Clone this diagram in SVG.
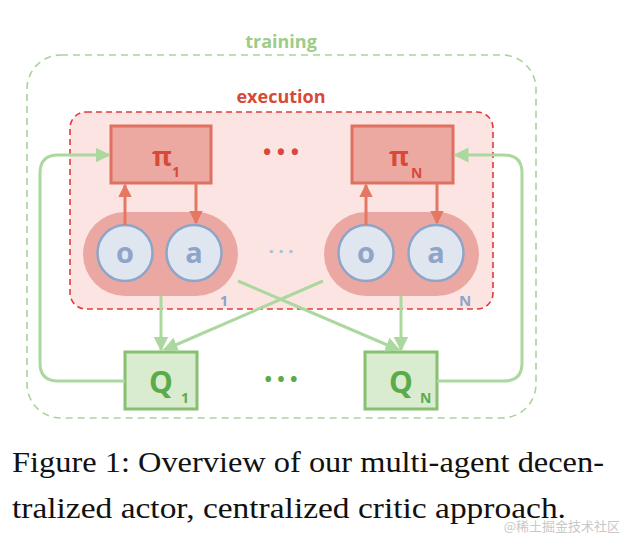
<svg xmlns="http://www.w3.org/2000/svg" width="626" height="540" viewBox="0 0 626 540">
<style>
.lbl{font-family:"Open Sans","Liberation Sans",sans-serif;font-weight:bold;}
.circ{fill:#dfe6f0;stroke:#8ea5c8;stroke-width:2.5;}
.ctext{font-family:"Open Sans","Liberation Sans",sans-serif;font-weight:bold;font-size:29px;fill:#8ea5c8;text-anchor:middle;}
.pi{fill:#eba9a1;stroke:#e0705f;stroke-width:3;}
.pitext{font-family:"Open Sans","Liberation Sans",sans-serif;font-weight:bold;fill:#d9493a;}
.q{fill:#d9ecd0;stroke:#86c070;stroke-width:3;}
.qtext{font-family:"Open Sans","Liberation Sans",sans-serif;font-weight:bold;fill:#5cab4a;}
.g{fill:none;stroke:#abd89e;stroke-width:3;}
.r{fill:none;stroke:#e47862;stroke-width:3;}
.cap{font-family:"Liberation Serif","Times New Roman",serif;font-size:30px;fill:#111;}
</style>
<defs>
<marker id="ag" viewBox="0 0 10 10" refX="9" refY="5" markerWidth="5" markerHeight="5" orient="auto" markerUnits="strokeWidth">
<path d="M0,0 L10,5 L0,10 z" fill="#abd89e"/>
</marker>
<marker id="ar" viewBox="0 0 10 10" refX="9" refY="5" markerWidth="4.5" markerHeight="4.5" orient="auto" markerUnits="strokeWidth">
<path d="M0,0 L10,5 L0,10 z" fill="#e47862"/>
</marker>
</defs>
<rect width="626" height="540" fill="#fff"/>
<g id="training">
<rect x="27" y="55" width="509" height="363" rx="34" fill="none" stroke="#a9d39b" stroke-width="1.6" stroke-dasharray="7,5"/>
<text class="lbl" x="281" y="48" font-size="18" fill="#9dcc88" text-anchor="middle">training</text>
</g>
<g id="execution">
<rect x="70" y="112" width="423" height="197" rx="16" fill="#fbe4e2" stroke="#e03c3c" stroke-width="1.6" stroke-dasharray="6,4"/>
<text class="lbl" x="281" y="103" font-size="18" fill="#d64a36" text-anchor="middle">execution</text>
</g>
<g id="pi1">
<rect class="pi" x="111" y="126" width="100" height="57"/>
<text class="pitext" x="152" y="166" font-size="27">π</text>
<text class="pitext" x="172" y="177" font-size="14">1</text>
</g>
<g id="piN">
<rect class="pi" x="352" y="126" width="101" height="57"/>
<text class="pitext" x="389" y="166" font-size="27">π</text>
<text class="pitext" x="411" y="178" font-size="14">N</text>
</g>
<g id="pidots"><text class="pitext" x="281" y="160" font-size="22" text-anchor="middle">• • •</text></g>
<g id="agent1">
<rect x="83" y="212" width="155" height="84" rx="42" fill="#eba8a2"/>
<ellipse class="circ" cx="125" cy="253" rx="27.5" ry="28"/>
<text class="ctext" x="125" y="263">o</text>
<ellipse class="circ" cx="194" cy="253" rx="27.5" ry="28"/>
<text class="ctext" x="194" y="263">a</text>
<text class="lbl" x="224" y="306" font-size="15" fill="#8ea5c8" text-anchor="middle">1</text>
</g>
<g id="agentN">
<rect x="324" y="212" width="155" height="84" rx="42" fill="#eba8a2"/>
<ellipse class="circ" cx="366" cy="253" rx="27.5" ry="28"/>
<text class="ctext" x="366" y="263">o</text>
<ellipse class="circ" cx="436" cy="253" rx="27.5" ry="28"/>
<text class="ctext" x="436" y="263">a</text>
<text class="lbl" x="465" y="306" font-size="15" fill="#8ea5c8" text-anchor="middle">N</text>
</g>
<g id="agentdots"><text x="281" y="258" font-family="Open Sans, Liberation Sans, sans-serif" font-size="18" font-weight="bold" fill="#a9bbd6" text-anchor="middle">· · ·</text></g>
<g id="Q1">
<rect class="q" x="125" y="352" width="72" height="57"/>
<text class="qtext" x="149" y="393" font-size="30">Q</text>
<text class="qtext" x="181" y="403" font-size="14">1</text>
</g>
<g id="QN">
<rect class="q" x="365" y="352" width="72" height="57"/>
<text class="qtext" x="389" y="393" font-size="30">Q</text>
<text class="qtext" x="420" y="403" font-size="14">N</text>
</g>
<g id="qdots"><text class="qtext" x="281" y="386" font-size="20" text-anchor="middle">• • •</text></g>
<g id="connectors">
<line class="r" x1="125" y1="225" x2="125" y2="185" marker-end="url(#ar)"/>
<line class="r" x1="196" y1="183" x2="196" y2="223" marker-end="url(#ar)"/>
<line class="r" x1="366" y1="225" x2="366" y2="185" marker-end="url(#ar)"/>
<line class="r" x1="437" y1="183" x2="437" y2="223" marker-end="url(#ar)"/>
<line class="g" x1="161" y1="296" x2="161" y2="350" marker-end="url(#ag)"/>
<line class="g" x1="401" y1="296" x2="401" y2="350" marker-end="url(#ag)"/>
<line class="g" x1="238" y1="281" x2="399" y2="350" marker-end="url(#ag)"/>
<line class="g" x1="323" y1="281" x2="164" y2="350" marker-end="url(#ag)"/>
<path class="g" d="M125,381 H58 Q40,381 40,363 V173 Q40,155 58,155 H109" marker-end="url(#ag)"/>
<path class="g" d="M437,381 H504 Q522,381 522,363 V173 Q522,155 504,155 H455" marker-end="url(#ag)"/>
</g>
<g id="caption">
<text class="cap" x="12" y="472" textLength="592" lengthAdjust="spacingAndGlyphs">Figure 1:  Overview of our multi-agent decen-</text>
<text class="cap" x="12" y="518" textLength="554" lengthAdjust="spacingAndGlyphs">tralized actor, centralized critic approach.</text>
<text x="620" y="531" font-family="Noto Sans CJK SC, sans-serif" font-size="13" fill="#c8c8c8" text-anchor="end">@稀土掘金技术社区</text>
</g>
</svg>
